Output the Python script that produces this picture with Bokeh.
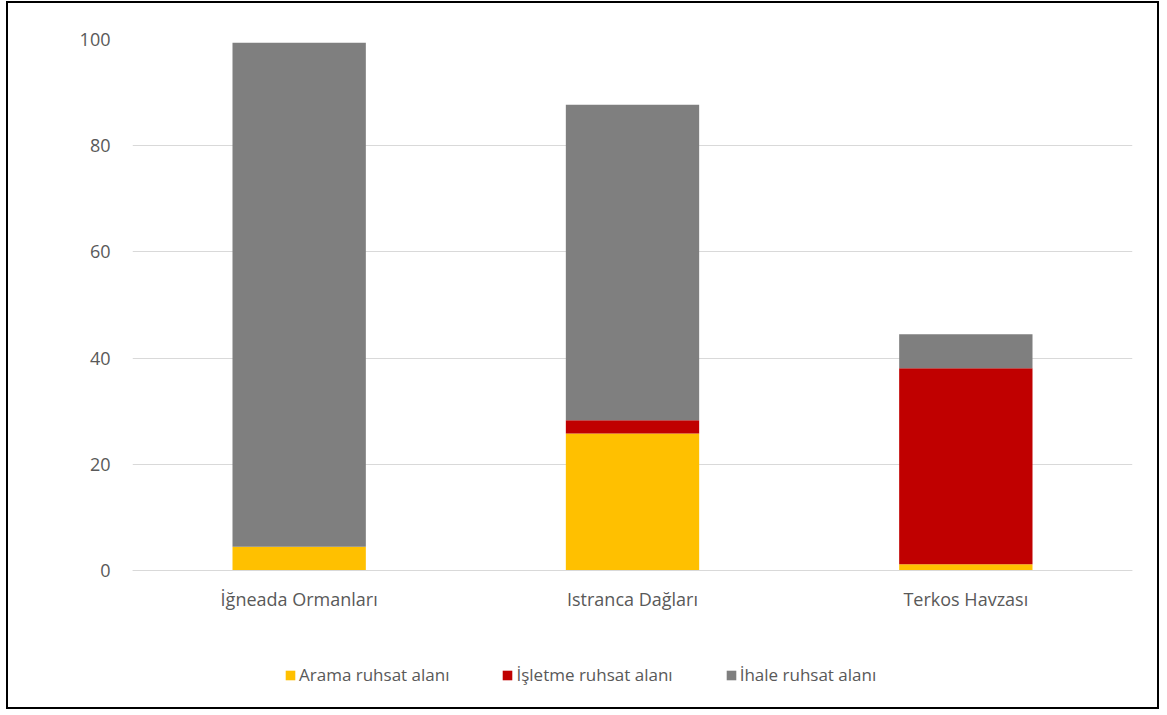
from bokeh.plotting import figure
from bokeh.models import ColumnDataSource, Legend, LegendItem, FixedTicker, Range1d, FactorRange
from bokeh.embed import file_html
from bokeh.resources import INLINE

categories = ["İğneada Ormanları", "Istranca Dağları", "Terkos Havzası"]
series_names = ["Arama ruhsat alanı", "İşletme ruhsat alanı", "İhale ruhsat alanı"]
arama = [4.5, 25.8, 1.2]
isletme = [0.0, 2.5, 36.9]
ihale = [94.9, 59.4, 6.4]
colors = ["#FFC000", "#C00000", "#7F7F7F"]
y_ticks = [0, 20, 40, 60, 80, 100]

keys = ["arama", "isletme", "ihale"]
source = ColumnDataSource(dict(cat=categories, arama=arama, isletme=isletme, ihale=ihale))

FONT = "Open Sans"
TXT = "#595959"

# frame extends below zero so the category labels and legend can live inside it
p = figure(x_range=FactorRange(*categories, range_padding=0), y_range=Range1d(-25.4, 100),
           width=1153, height=708, output_backend="svg", toolbar_location=None,
           min_border_left=124, min_border_right=29, min_border_top=36, min_border_bottom=6)
p.styles = {"border": "2px solid black", "margin": "1px 0 0 6px"}
p.outline_line_color = None

renderers = p.vbar_stack(keys, x="cat", width=0.4, source=source, color=colors, line_color=None)

p.xgrid.grid_line_color = None
p.ygrid.ticker = FixedTicker(ticks=y_ticks)
p.ygrid.grid_line_color = "#D9D9D9"
p.ygrid.grid_line_width = 1

p.yaxis.ticker = FixedTicker(ticks=y_ticks)
p.yaxis.axis_line_color = None
p.yaxis.major_tick_line_color = None
p.yaxis.minor_tick_line_color = None
p.yaxis.major_tick_out = 0
p.yaxis.major_label_standoff = 22
p.yaxis.major_label_text_font = FONT
p.yaxis.major_label_text_font_size = "18px"
p.yaxis.major_label_text_color = TXT

p.xaxis.fixed_location = 0
p.xaxis.axis_line_color = "#D9D9D9"
p.xaxis.major_tick_line_color = None
p.xaxis.major_tick_out = 0
p.xaxis.major_label_standoff = 16
p.xaxis.major_label_text_font = FONT
p.xaxis.major_label_text_font_size = "18px"
p.xaxis.major_label_text_color = TXT

legend = Legend(items=[LegendItem(label=n, renderers=[r]) for n, r in zip(series_names, renderers)],
                orientation="horizontal", location=(152, 19),
                glyph_width=12, glyph_height=12, label_standoff=3, spacing=52,
                padding=0, margin=0, border_line_color=None, background_fill_alpha=0,
                label_text_font=FONT, label_text_font_size="17px", label_text_color=TXT)
p.add_layout(legend, "center")

open("out.html", "w").write(file_html(p, INLINE))
